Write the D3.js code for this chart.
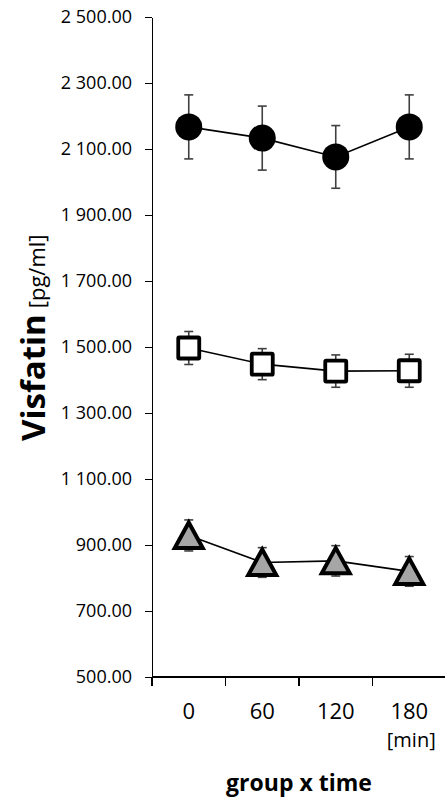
<!DOCTYPE html>
<meta charset="utf-8">
<style>
body{
    margin:0;
    background:#fff;
}
svg text{
    font-family:"Open Sans", "DejaVu Sans", sans-serif;
    fill:#000;
}
.axis path, .axis line{
    stroke:#000;
    stroke-width:1.5px;
    shape-rendering:crispEdges;
}
.err{
    stroke:#404040;
    stroke-width:1.6px;
    fill:none;
}
.conn{
    stroke:#000;
    stroke-width:1.6px;
    fill:none;
}
</style>
<body>
<script src="https://cdn.jsdelivr.net/npm/d3@7"></script>
<script>
// values
var times = ["0", "60", "120", "180"];
var yTicks = [500, 700, 900, 1100, 1300, 1500, 1700, 1900, 2100, 2300, 2500];

var circleMean = [2167, 2133, 2076, 2167];
var circleErr  = [97, 97, 95, 97];
var squareMean = [1497, 1448, 1427, 1428];
var squareErr  = [50, 47, 49, 50];
var triMean    = [929, 847, 852, 820];
var triErr     = [47, 45, 46, 45];

var W = 445, H = 802;
var svg = d3.select("body").append("svg").attr("width", W).attr("height", H);

var x = d3.scaleBand().domain(times).range([152, 446]);
var y = d3.scaleLinear().domain([500, 2500]).range([677, 17]);

var fmt = function(v){ return d3.format(",.2f")(v).replace(/,/g, " "); };

// y axis
var yAxis = svg.append("g").attr("class", "axis")
    .attr("transform", "translate(152,0)")
    .call(d3.axisLeft(y).tickValues(yTicks).tickFormat(fmt).tickSize(7).tickSizeOuter(0).tickPadding(13));
yAxis.selectAll("text").style("font-size", "18px");

// x axis: line, ticks at band edges, labels at centres
var xg = svg.append("g").attr("class", "axis");
xg.append("line").attr("x1", 152).attr("x2", 446).attr("y1", y(500)).attr("y2", y(500));
var edges = times.map(function(t){ return x(t); }).concat([x.range()[1]]);
xg.selectAll(".xt").data(edges).enter().append("line")
    .attr("x1", function(d){ return d; }).attr("x2", function(d){ return d; })
    .attr("y1", y(500)).attr("y2", y(500) + 9);
svg.selectAll(".xl").data(times).enter().append("text")
    .attr("x", function(d){ return x(d) + x.bandwidth() / 2; })
    .attr("y", 719)
    .attr("text-anchor", "middle")
    .style("font-size", "22px")
    .text(function(d){ return d; });
svg.append("text")
    .attr("x", x("180") + x.bandwidth() / 2 + 2).attr("y", 747)
    .attr("text-anchor", "middle").style("font-size", "20px").text("[min]");
svg.append("text")
    .attr("x", 299).attr("y", 791)
    .attr("text-anchor", "middle").style("font-size", "23px").style("font-weight", "bold")
    .text("group x time");

// y label
var yl = svg.append("text").attr("transform", "translate(45,441) rotate(-90)");
yl.append("tspan").style("font-size", "33px").style("font-weight", "bold").text("Visfatin");
yl.append("tspan").attr("dx", 6).style("font-size", "22px").text("[pg/ml]");

var cx = function(i){ return x(times[i]) + x.bandwidth() / 2; };

function series(mean, err, shape){
    var g = svg.append("g");
    var pts = mean.map(function(m, i){ return {x: cx(i), m: m, e: err[i]}; });
    g.selectAll(".ev").data(pts).enter().append("line").attr("class", "err")
        .attr("x1", function(d){ return d.x; }).attr("x2", function(d){ return d.x; })
        .attr("y1", function(d){ return y(d.m - d.e); }).attr("y2", function(d){ return y(d.m + d.e); });
    [1, -1].forEach(function(s){
        g.selectAll(".ec" + s).data(pts).enter().append("line").attr("class", "err")
            .attr("x1", function(d){ return d.x - 4.5; }).attr("x2", function(d){ return d.x + 4.5; })
            .attr("y1", function(d){ return y(d.m + s * d.e); }).attr("y2", function(d){ return y(d.m + s * d.e); });
    });
    g.append("path").attr("class", "conn")
        .attr("d", d3.line().x(function(d){ return d.x; }).y(function(d){ return y(d.m); })(pts));
    var mk = g.selectAll(".mk").data(pts).enter();
    if(shape == "circle"){
        mk.append("circle").attr("cx", function(d){ return d.x; }).attr("cy", function(d){ return y(d.m); })
            .attr("r", 13.5).attr("fill", "#000");
    } else if(shape == "square"){
        mk.append("rect").attr("x", function(d){ return d.x - 10.5; }).attr("y", function(d){ return y(d.m) - 10.5; })
            .attr("width", 21).attr("height", 21).attr("rx", 1)
            .attr("fill", "#fff").attr("stroke", "#000").attr("stroke-width", 3.8);
    } else {
        mk.append("path").attr("d", function(d){
                var px = d.x, py = y(d.m);
                return "M" + px + "," + (py - 13) + "L" + (px + 14) + "," + (py + 12.5) + "L" + (px - 14) + "," + (py + 12.5) + "Z";
            })
            .attr("fill", "#a6a6a6").attr("stroke", "#000").attr("stroke-width", 4).attr("stroke-linejoin", "miter");
    }
}

series(circleMean, circleErr, "circle");
series(squareMean, squareErr, "square");
series(triMean, triErr, "triangle");
</script>
